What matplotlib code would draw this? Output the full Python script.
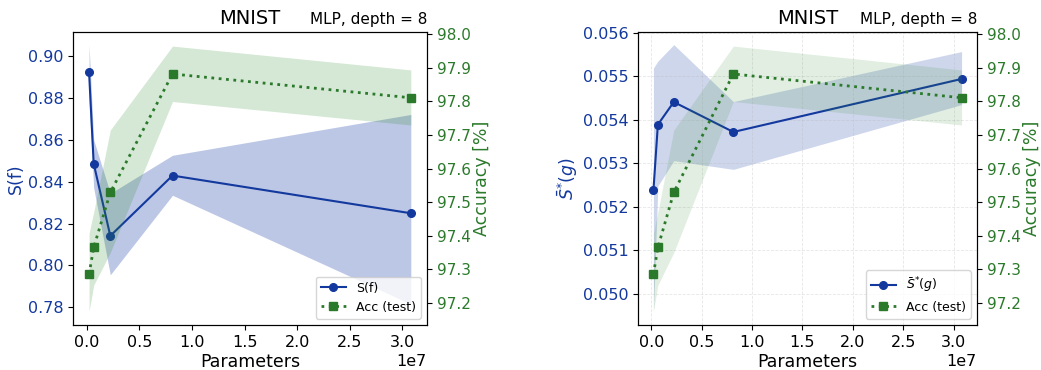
import numpy as np
import matplotlib
matplotlib.use("Agg")
import matplotlib.pyplot as plt
from matplotlib.ticker import MultipleLocator

# MLP depth 8, widths 128..2048
params = [2.2e5, 6.6e5, 2.24e6, 8.15e6, 3.08e7]

# left panel: S(f)
sf_mean = [0.8924, 0.8486, 0.8141, 0.8429, 0.8249]
sf_low = [0.879, 0.837, 0.7955, 0.8335, 0.7815]
sf_high = [0.9053, 0.860, 0.8344, 0.8526, 0.8721]

# right panel: S*(g)
sg_mean = [0.05238, 0.05389, 0.05441, 0.05372, 0.05494]
sg_low = [0.04959, 0.05248, 0.05306, 0.05286, 0.05435]
sg_high = [0.05519, 0.05535, 0.05573, 0.05442, 0.05557]

# test accuracy (same for both panels)
acc_mean = [97.285, 97.365, 97.529, 97.882, 97.811]
acc_low = [97.175, 97.253, 97.35, 97.80, 97.730]
acc_high = [97.407, 97.47, 97.715, 97.965, 97.894]

blue = '#13399e'
green = '#2b7a2b'
tick_fs = 11.5
lab_fs = 12.5


def panel(ax, mean, low, high, label, ylim, blue_alpha, green_alpha, grid):
    ax.fill_between(params, low, high, color='#2448aa', alpha=blue_alpha, lw=0)
    l1, = ax.plot(params, mean, '-o', color=blue, ms=5.5, lw=1.5, label=label)
    ax.set_ylim(*ylim)
    ax.xaxis.set_major_locator(MultipleLocator(0.5e7))
    ax.set_ylabel(label, color=blue, fontsize=lab_fs, labelpad=2)
    ax.tick_params(axis='y', labelcolor=blue, labelsize=tick_fs)
    ax.tick_params(axis='x', labelsize=tick_fs)
    ax.set_xlabel('Parameters', fontsize=lab_fs, labelpad=2)
    ax.xaxis.get_offset_text().set_fontsize(tick_fs)
    if grid:
        ax.grid(True, ls='--', alpha=0.3, lw=0.6)

    ax2 = ax.twinx()
    ax2.fill_between(params, acc_low, acc_high, color='#2e8b2e', alpha=green_alpha, lw=0)
    l2, = ax2.plot(params, acc_mean, ':s', color=green, ms=5.5, lw=2, label='Acc (test)')
    ax2.set_ylim(97.134, 98.007)
    ax2.set_ylabel('Accuracy [%]', color=green, fontsize=lab_fs, labelpad=2)
    ax2.tick_params(axis='y', labelcolor=green, labelsize=11)
    ax2.legend([l1, l2], [label, 'Acc (test)'], loc='lower right', fontsize=9)

    ax.set_title('MNIST', fontsize=14)
    ax.set_title('MLP, depth = 8', loc='right', fontsize=11)


fig = plt.figure(figsize=(10.41, 3.70), dpi=100)
axL = fig.add_axes([0.0701, 0.1216, 0.3400, 0.7919])
axR = fig.add_axes([0.6129, 0.1216, 0.3256, 0.7919])

panel(axL, sf_mean, sf_low, sf_high, 'S(f)', (0.7715, 0.9115), 0.3, 0.2, False)
panel(axR, sg_mean, sg_low, sg_high, r'$\bar{S}^{*}(g)$', (0.04928, 0.05602), 0.22, 0.14, True)

fig.savefig('out.png', dpi=100)
